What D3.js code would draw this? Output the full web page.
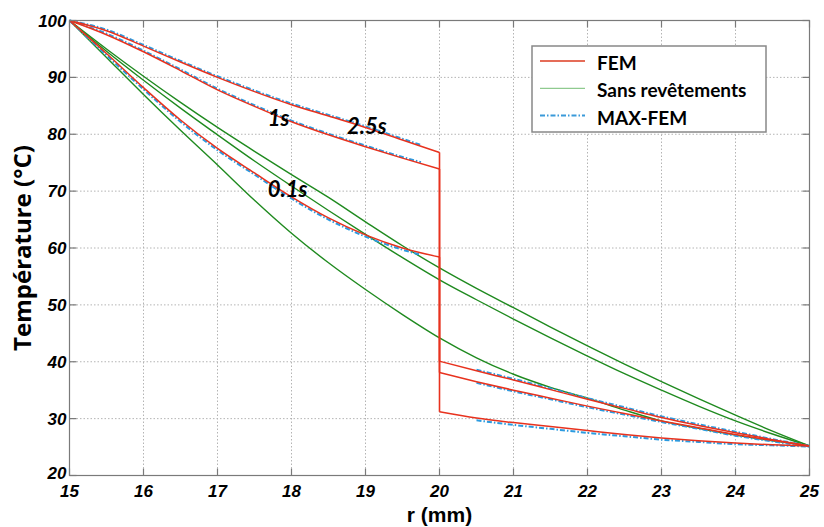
<!DOCTYPE html>
<html>
<head>
<meta charset="utf-8">
<script src="https://cdn.jsdelivr.net/npm/d3@7/dist/d3.min.js"></script>
<style>
  body { margin: 0; background: #fff; }
  svg { display: block; }
</style>
</head>
<body>
<script>
var width = 824;
var height = 527;
var margin = {left: 69.5, right: 14.5, top: 20.5, bottom: 51.5};

/* r (mm) : revêtement 15-20, substrat 20-25 */
var rCoat = [15, 15.5, 16, 16.5, 17, 17.5, 18, 18.5, 19, 19.5, 20];
var rSub = [20, 20.5, 21, 21.5, 22, 22.5, 23, 23.5, 24, 24.5, 25];
var rAll = [15, 15.5, 16, 16.5, 17, 17.5, 18, 18.5, 19, 19.5, 20, 20.5, 21, 21.5, 22, 22.5, 23, 23.5, 24, 24.5, 25];

/* FEM */
var femCoat_01 = [100, 94.2, 88.2, 82.5, 77.5, 73.2, 69.0, 65.3, 62.3, 60.0, 58.4];
var femSub_01 = [31.2, 30.1, 29.3, 28.6, 27.9, 27.2, 26.6, 26.1, 25.7, 25.4, 25.2];
var femCoat_1 = [100, 97.5, 94.5, 91.2, 87.8, 84.9, 82.2, 79.9, 77.8, 75.8, 73.9];
var femSub_1 = [38.1, 36.5, 35.0, 33.6, 32.2, 30.9, 29.6, 28.4, 27.2, 26.2, 25.2];
var femCoat_25 = [100, 98.2, 95.5, 92.7, 90.0, 87.5, 85.2, 83.2, 81.2, 79.0, 76.8];
var femSub_25 = [40.1, 38.4, 36.8, 35.1, 33.4, 31.8, 30.2, 28.8, 27.5, 26.3, 25.2];

/* MAX-FEM (ne va pas jusqu'a l'interface) */
var rMaxCoat = [15, 15.5, 16, 16.5, 17, 17.5, 18, 18.5, 19, 19.5, 19.75];
var rMaxSub = [20.5, 21, 21.5, 22, 22.5, 23, 23.5, 24, 24.5, 25];
var maxCoat_01 = [100, 93.9, 87.9, 82.2, 77.2, 72.9, 68.7, 65.0, 62.0, 59.7, 58.8];
var maxSub_01 = [29.7, 28.9, 28.2, 27.5, 26.9, 26.3, 25.9, 25.5, 25.3, 25.1];
var maxCoat_1 = [100, 97.7, 94.7, 91.4, 88.0, 85.1, 82.4, 80.1, 78.0, 76.0, 75.1];
var maxSub_1 = [36.3, 34.8, 33.4, 32.0, 30.7, 29.4, 28.2, 27.0, 26.0, 25.1];
var maxCoat_25 = [100, 98.4, 95.7, 92.9, 90.2, 87.7, 85.4, 83.4, 81.4, 79.2, 78.1];
var maxSub_25 = [38.6, 37.0, 35.3, 33.6, 32.0, 30.4, 29.0, 27.7, 26.4, 25.2];

/* Sans revêtement */
var sans_a = [100, 95.0, 90.2, 85.6, 81.2, 77.0, 72.9, 68.9, 64.6, 60.4, 56.5, 52.9, 49.5, 46.1, 42.8, 39.6, 36.5, 33.5, 30.6, 27.8, 25.2];
var sans_b = [100, 94.6, 89.5, 84.6, 79.9, 75.3, 70.9, 66.6, 62.4, 58.3, 54.4, 50.9, 47.5, 44.2, 41.0, 37.9, 35.0, 32.2, 29.6, 27.3, 25.2];
var sans_c = [100, 93.5, 87.0, 80.7, 74.6, 68.4, 62.6, 57.4, 52.7, 48.3, 44.2, 40.7, 37.8, 35.5, 33.6, 31.5, 29.6, 28.3, 27.1, 26.1, 25.2];

/* étiquettes des temps */
var timeLabels = ["0.1s", "1s", "2.5s"];
var timeLabelR = [17.68, 17.68, 18.75];
var timeLabelT = [69.0, 81.4, 80.0];

/* axes */
var xTicks = [15, 16, 17, 18, 19, 20, 21, 22, 23, 24, 25];
var yTicks = [20, 30, 40, 50, 60, 70, 80, 90, 100];
var legendNames = ["FEM", "Sans revêtements", "MAX-FEM"];

var red = "#e8321e";
var green = "#1f8a1f";
var blue = "#2b9be0";

var x = d3.scaleLinear().domain([15, 25]).range([margin.left, width - margin.right]);
var y = d3.scaleLinear().domain([20, 100]).range([height - margin.bottom, margin.top]);

var svg = d3.select("body").append("svg")
  .attr("width", width)
  .attr("height", height);

svg.append("rect").attr("width", width).attr("height", height).attr("fill", "#fff");

/* grille */
var grid = svg.append("g").attr("class", "grid")
  .attr("stroke", "#b4b4b4")
  .attr("stroke-width", 1)
  .attr("stroke-dasharray", "1.5,2");

grid.selectAll("line.vx")
  .data(xTicks.slice(1, -1))
  .enter().append("line")
  .attr("x1", d => x(d)).attr("x2", d => x(d))
  .attr("y1", y(20)).attr("y2", y(100));

grid.selectAll("line.hy")
  .data(yTicks.slice(1, -1))
  .enter().append("line")
  .attr("class", "hy")
  .attr("x1", x(15)).attr("x2", x(25))
  .attr("y1", d => y(d)).attr("y2", d => y(d));

/* courbes */
var line = d3.line()
  .x(d => x(d[0]))
  .y(d => y(d[1]))
  .curve(d3.curveMonotoneX);

var straight = d3.line()
  .x(d => x(d[0]))
  .y(d => y(d[1]));

function pairs(rs, vs) {
  return rs.map(function (r, i) { return [r, vs[i]]; });
}

var plot = svg.append("g").attr("fill", "none");

[sans_a, sans_b, sans_c].forEach(function (s) {
  plot.append("path")
    .attr("d", line(pairs(rAll, s)))
    .attr("stroke", green)
    .attr("stroke-width", 1.4);
});

[[maxCoat_01, maxSub_01], [maxCoat_1, maxSub_1], [maxCoat_25, maxSub_25]].forEach(function (s) {
  plot.append("path")
    .attr("d", line(pairs(rMaxCoat, s[0])))
    .attr("stroke", blue)
    .attr("stroke-width", 2)
    .attr("stroke-dasharray", "5,2,1.5,2");
  plot.append("path")
    .attr("d", line(pairs(rMaxSub, s[1])))
    .attr("stroke", blue)
    .attr("stroke-width", 2)
    .attr("stroke-dasharray", "5,2,1.5,2");
});

[[femCoat_01, femSub_01], [femCoat_1, femSub_1], [femCoat_25, femSub_25]].forEach(function (s) {
  plot.append("path")
    .attr("d", line(pairs(rCoat, s[0])))
    .attr("stroke", red)
    .attr("stroke-width", 1.5);
  // saut a l'interface
  plot.append("path")
    .attr("d", straight([[20, s[0][s[0].length - 1]], [20, s[1][0]]]))
    .attr("stroke", red)
    .attr("stroke-width", 1.6);
  plot.append("path")
    .attr("d", line(pairs(rSub, s[1])))
    .attr("stroke", red)
    .attr("stroke-width", 1.5);
});

/* cadre + graduations internes */
var frame = svg.append("g").attr("stroke", "#7a7a7a").attr("stroke-width", 1.2);

frame.append("rect")
  .attr("x", x(15)).attr("y", y(100))
  .attr("width", x(25) - x(15)).attr("height", y(20) - y(100))
  .attr("fill", "none");

var tl = 7;
frame.selectAll("line.tb")
  .data(xTicks)
  .enter().append("line")
  .attr("x1", d => x(d)).attr("x2", d => x(d))
  .attr("y1", y(20)).attr("y2", y(20) - tl);
frame.selectAll("line.tt")
  .data(xTicks)
  .enter().append("line")
  .attr("class", "tt")
  .attr("x1", d => x(d)).attr("x2", d => x(d))
  .attr("y1", y(100)).attr("y2", y(100) + tl);
frame.selectAll("line.tl")
  .data(yTicks)
  .enter().append("line")
  .attr("class", "tl")
  .attr("x1", x(15)).attr("x2", x(15) + tl)
  .attr("y1", d => y(d)).attr("y2", d => y(d));
frame.selectAll("line.tr")
  .data(yTicks)
  .enter().append("line")
  .attr("class", "tr")
  .attr("x1", x(25)).attr("x2", x(25) - tl)
  .attr("y1", d => y(d)).attr("y2", d => y(d));

/* libellés des graduations */
svg.append("g")
  .selectAll("text")
  .data(yTicks)
  .enter().append("text")
  .attr("x", x(15) - 3)
  .attr("y", d => y(d))
  .attr("dy", d => d == 20 ? "0.2em" : "0.36em")
  .attr("text-anchor", "end")
  .style("font", "italic bold 17px 'Liberation Sans', Arial, sans-serif")
  .text(d => d);

svg.append("g")
  .selectAll("text")
  .data(xTicks)
  .enter().append("text")
  .attr("x", d => x(d))
  .attr("y", y(20) + 21)
  .attr("text-anchor", "middle")
  .style("font", "italic bold 17px 'Liberation Sans', Arial, sans-serif")
  .text(d => d);

/* titres des axes */
svg.append("text")
  .attr("transform", "translate(31," + ((y(20) + y(100)) / 2) + ") rotate(-90)")
  .attr("text-anchor", "middle")
  .style("font", "bold 24px 'Open Sans', Lato, sans-serif")
  .text("Température (°C)");

svg.append("text")
  .attr("x", (x(15) + x(25)) / 2)
  .attr("y", 522)
  .attr("text-anchor", "middle")
  .style("font", "bold 21px 'Liberation Sans', Arial, sans-serif")
  .text("r (mm)");

/* étiquettes des temps */
svg.append("g")
  .selectAll("text")
  .data(timeLabels)
  .enter().append("text")
  .attr("x", (d, i) => x(timeLabelR[i]))
  .attr("y", (d, i) => y(timeLabelT[i]))
  .style("font", "italic bold 22px Lato, 'Open Sans', sans-serif")
  .text(d => d);

/* légende */
var legend = svg.append("g").attr("class", "legend");

legend.append("rect")
  .attr("x", 532).attr("y", 46)
  .attr("width", 234).attr("height", 86)
  .attr("fill", "#fff")
  .attr("stroke", "#888")
  .attr("stroke-width", 1.5);

var legendColors = ["#dc3b20", "#8fca8f", "#3a9ad9"];
var legendDash = [null, null, "5,2,1.5,2"];

var item = legend.selectAll("g.item")
  .data(legendNames)
  .enter().append("g")
  .attr("class", "item")
  .attr("transform", (d, i) => "translate(0," + (i * 27.3) + ")");

item.append("line")
  .attr("x1", 540).attr("x2", 585)
  .attr("y1", 61).attr("y2", 61)
  .attr("stroke", (d, i) => legendColors[i])
  .attr("stroke-width", (d, i) => i == 2 ? 2 : 1.3)
  .attr("stroke-dasharray", (d, i) => legendDash[i]);

item.append("text")
  .attr("x", 597)
  .attr("y", 70)
  .style("font", "bold 19px Lato, 'Open Sans', sans-serif")
  .text(d => d);
</script>
</body>
</html>
